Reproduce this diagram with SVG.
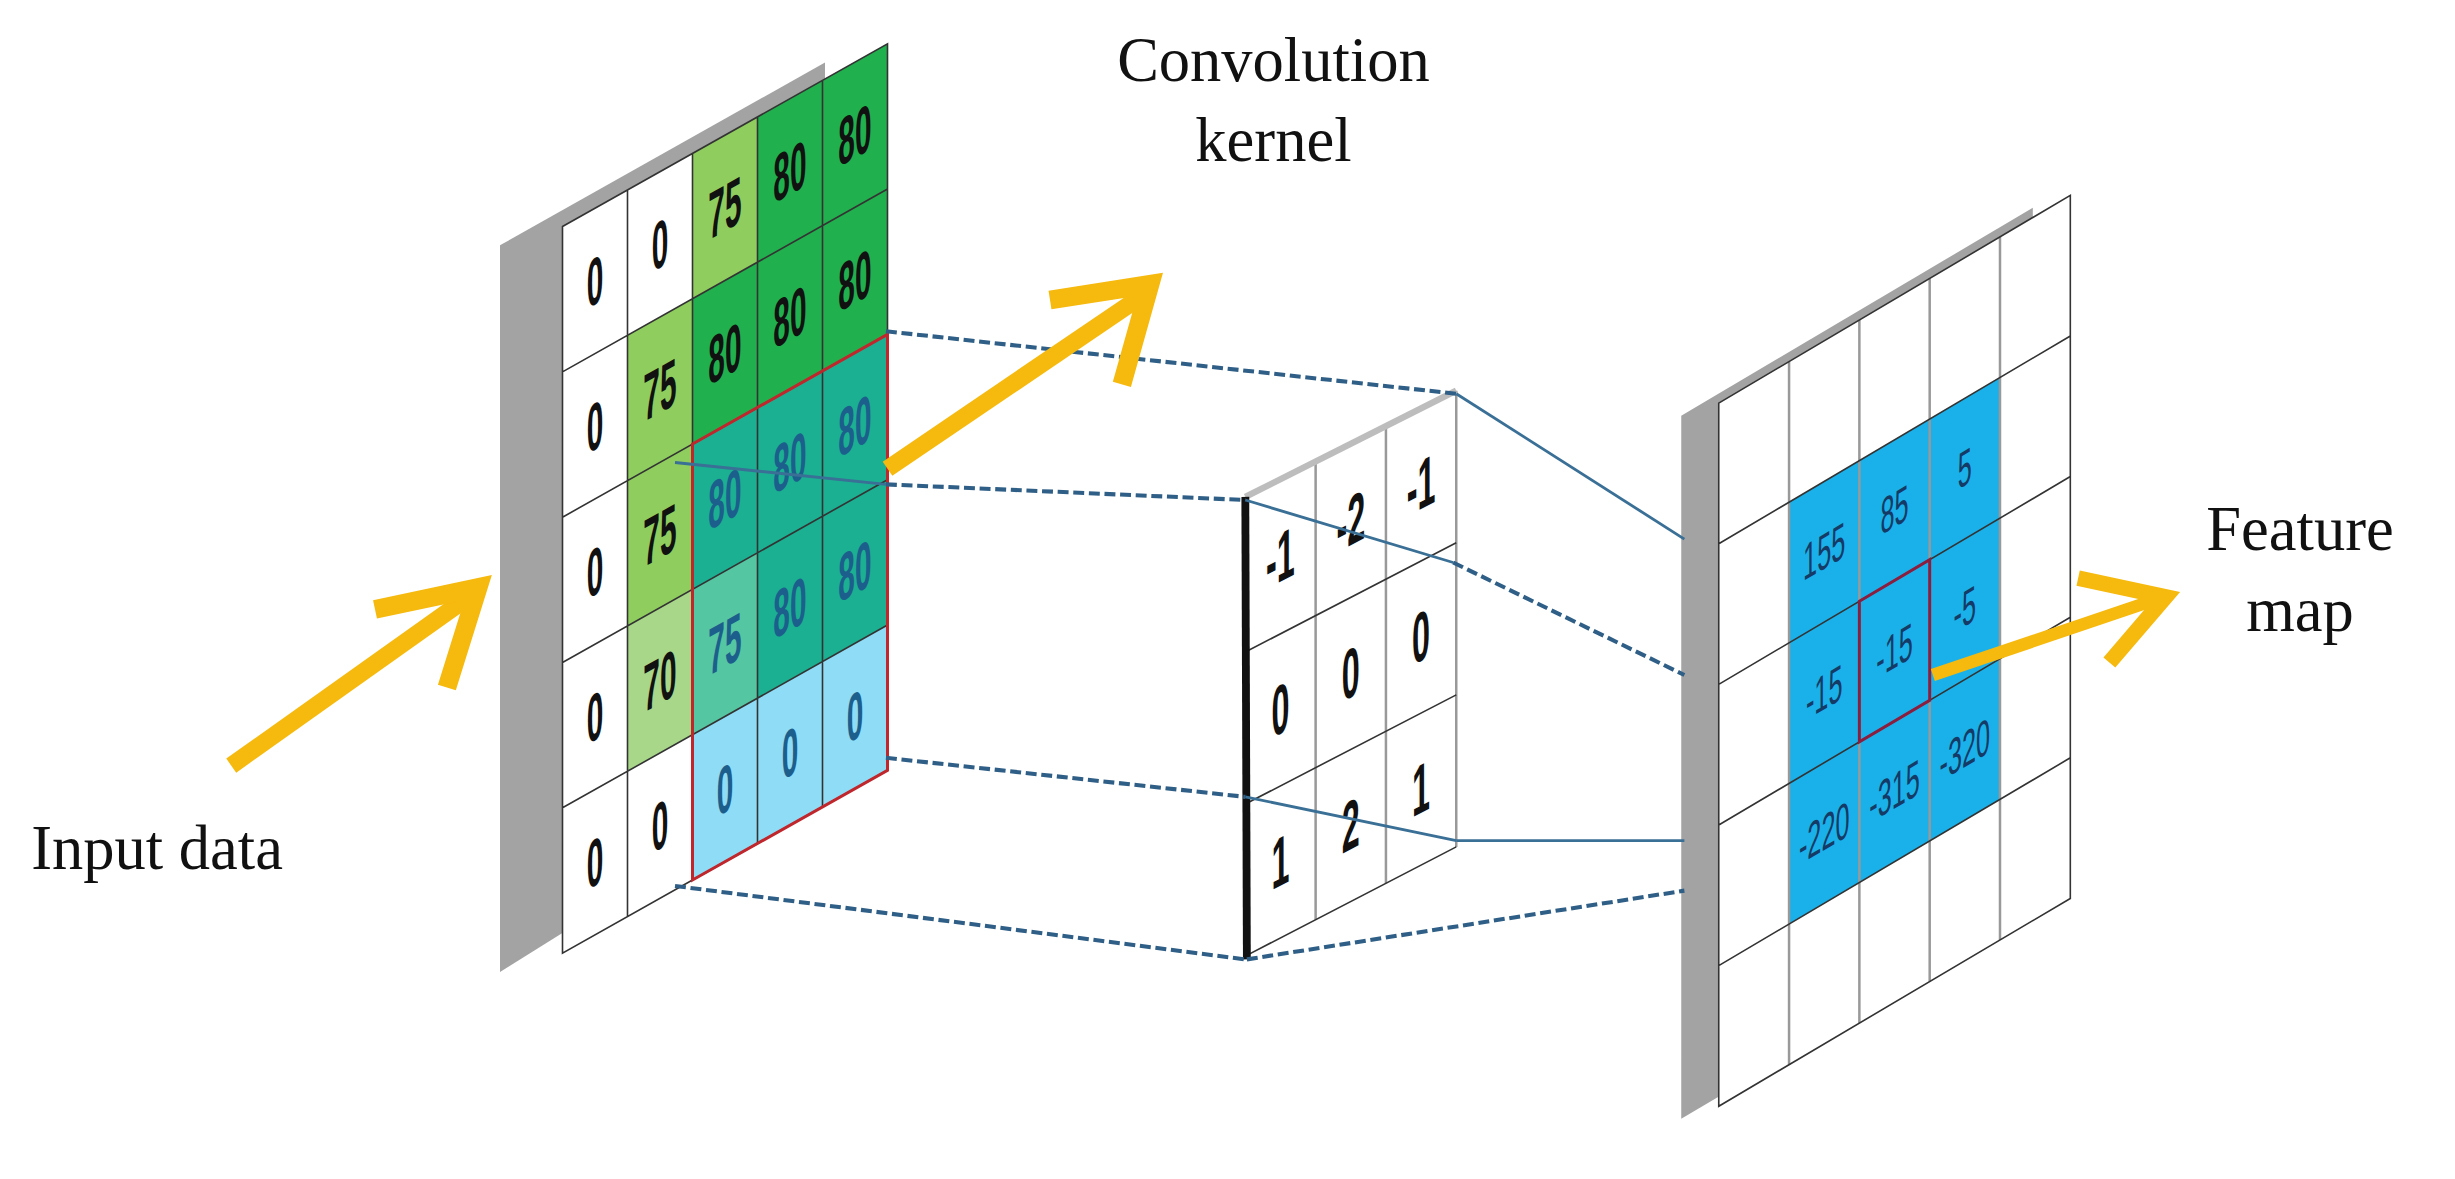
<svg xmlns="http://www.w3.org/2000/svg" width="2455" height="1179" viewBox="0 0 2455 1179">
<defs>
<style>
.lbl{font-family:"Liberation Serif","Times New Roman",serif;font-size:40px;fill:#111}
.num{font-family:"Liberation Sans",Arial,sans-serif;font-weight:bold;font-size:46px;text-anchor:middle;dominant-baseline:central;fill:#111}
.numb{fill:#1d5f8c}
.fm{font-family:"Liberation Sans",Arial,sans-serif;font-size:36px;text-anchor:middle;dominant-baseline:central;fill:#153a66}
.gl{stroke:#333;stroke-width:1.6;fill:none;vector-effect:non-scaling-stroke}
.gc{stroke:#999;stroke-width:2.5;fill:none;vector-effect:non-scaling-stroke}
.back{fill:#a3a3a3}
.dash{stroke:#2f5f86;stroke-width:2.6;stroke-dasharray:7 3;fill:none}
.sol{stroke:#3a6f96;stroke-width:1.8;fill:none}
.arr{stroke:#f6b90e;fill:none;stroke-linejoin:miter}
</style>
</defs>
<rect width="2455" height="1179" fill="#fff"/>
<g transform="scale(1.5625)">
<g id="input-grid">
<polygon class="back" points="320,157 528,40 528,492 320,622"/>
<g transform="matrix(0.416,-0.234,0,0.93,360,145)">
<rect x="0" y="0" width="500" height="500" fill="#fff"/>
<rect x="200" y="0" width="100" height="100" fill="#8fce5e"/>
<rect x="300" y="0" width="200" height="200" fill="#21b04e"/>
<rect x="100" y="100" width="100" height="200" fill="#8fce5e"/>
<rect x="200" y="100" width="100" height="100" fill="#21b04e"/>
<rect x="100" y="300" width="100" height="100" fill="#a8d78a"/>
<rect x="200" y="200" width="300" height="200" fill="#1bb092"/>
<rect x="200" y="300" width="100" height="100" fill="#55c6a2"/>
<rect x="200" y="400" width="300" height="100" fill="#8fdcf6"/>
<path class="gl" d="M0 0H500V500H0Z M0 100H500 M0 200H500 M0 300H500 M0 400H500 M100 0V500 M200 0V500 M300 0V500 M400 0V500"/>
<text class="num" x="50" y="50">0</text><text class="num" x="150" y="50">0</text><text class="num" x="250" y="50">75</text><text class="num" x="350" y="50">80</text><text class="num" x="450" y="50">80</text>
<text class="num" x="50" y="150">0</text><text class="num" x="150" y="150">75</text><text class="num" x="250" y="150">80</text><text class="num" x="350" y="150">80</text><text class="num" x="450" y="150">80</text>
<text class="num" x="50" y="250">0</text><text class="num" x="150" y="250">75</text><text class="num numb" x="250" y="250">80</text><text class="num numb" x="350" y="250">80</text><text class="num numb" x="450" y="250">80</text>
<text class="num" x="50" y="350">0</text><text class="num" x="150" y="350">70</text><text class="num numb" x="250" y="350">75</text><text class="num numb" x="350" y="350">80</text><text class="num numb" x="450" y="350">80</text>
<text class="num" x="50" y="450">0</text><text class="num" x="150" y="450">0</text><text class="num numb" x="250" y="450">0</text><text class="num numb" x="350" y="450">0</text><text class="num numb" x="450" y="450">0</text>
<rect x="200" y="200" width="300" height="300" fill="none" stroke="#c0272d" stroke-width="3" vector-effect="non-scaling-stroke"/>
</g>
</g>
<g id="kernel">
<g transform="matrix(0.45,-0.233,0,0.973,797,320)">
<rect x="0" y="0" width="300" height="300" fill="#fff"/>
<path class="gc" d="M100 0V300 M200 0V300 M300 0V300"/>
<path class="gl" d="M0 100H300 M0 200H300 M0 300H300"/>
<text class="num" x="50" y="50">-1</text><text class="num" x="150" y="50">-2</text><text class="num" x="250" y="50">-1</text>
<text class="num" x="50" y="150">0</text><text class="num" x="150" y="150">0</text><text class="num" x="250" y="150">0</text>
<text class="num" x="50" y="250">1</text><text class="num" x="150" y="250">2</text><text class="num" x="250" y="250">1</text>
</g>
<line x1="797" y1="318" x2="932" y2="250" stroke="#bdbdbd" stroke-width="4"/>
<line x1="797" y1="318" x2="798" y2="614" stroke="#111" stroke-width="5"/>
</g>
<g id="feature-map">
<polygon class="back" points="1076,266 1301,133 1301,583 1076,716"/>
<g transform="matrix(0.45,-0.266,0,0.9,1100,258)">
<rect x="0" y="0" width="500" height="500" fill="#fff"/>
<rect x="100" y="100" width="300" height="300" fill="#1ab1ea"/>
<path class="gc" d="M100 0V500 M200 0V500 M300 0V500 M400 0V500"/>
<path class="gl" d="M0 0H500V500H0Z M0 100H500 M0 200H500 M0 300H500 M0 400H500"/>
<text class="fm" x="150" y="150">155</text><text class="fm" x="250" y="150">85</text><text class="fm" x="350" y="150">5</text>
<text class="fm" x="150" y="250">-15</text><text class="fm" x="250" y="250">-15</text><text class="fm" x="350" y="250">-5</text>
<text class="fm" x="150" y="350">-220</text><text class="fm" x="250" y="350">-315</text><text class="fm" x="350" y="350">-320</text>
<rect x="200" y="200" width="100" height="100" fill="none" stroke="#8b1e3f" stroke-width="3" vector-effect="non-scaling-stroke"/>
</g>
</g>
<g id="connectors">
<line class="sol" x1="432" y1="296" x2="567" y2="310"/>
<line class="dash" x1="567" y1="212" x2="932" y2="252"/>
<line class="dash" x1="567" y1="310" x2="797" y2="320"/>
<line class="dash" x1="567" y1="485" x2="797" y2="510"/>
<line class="dash" x1="432" y1="567" x2="797" y2="614"/>
<line class="sol" x1="932" y1="252" x2="1078" y2="345"/>
<line class="sol" x1="797" y1="320" x2="930" y2="360"/>
<line class="dash" x1="930" y1="360" x2="1078" y2="432"/>
<line class="sol" x1="797" y1="510" x2="932" y2="538"/>
<line class="sol" x1="932" y1="538" x2="1078" y2="538"/>
<line class="dash" x1="798" y1="614" x2="1078" y2="570"/>
</g>
<g id="arrow-input">
<line class="arr" stroke-width="11" x1="148" y1="490" x2="300" y2="382"/>
<polyline class="arr" stroke-width="12" points="240,390 306,376 286,440"/>
</g>
<g id="arrow-kernel">
<line class="arr" stroke-width="11" x1="568" y1="300" x2="730" y2="190"/>
<polyline class="arr" stroke-width="12" points="672,192 736,182 718,246"/>
</g>
<g id="arrow-feature">
<line class="arr" stroke-width="8" x1="1237" y1="432" x2="1382" y2="383"/>
<polyline class="arr" stroke-width="10" points="1330,370 1386,382 1350,424"/>
</g>
<g id="labels">
<text class="lbl" x="20" y="556">Input data</text>
<text class="lbl" x="815" y="52" text-anchor="middle">Convolution</text>
<text class="lbl" x="815" y="103" text-anchor="middle">kernel</text>
<text class="lbl" x="1472" y="352" text-anchor="middle">Feature</text>
<text class="lbl" x="1472" y="404" text-anchor="middle">map</text>
</g>
</g>
</svg>
